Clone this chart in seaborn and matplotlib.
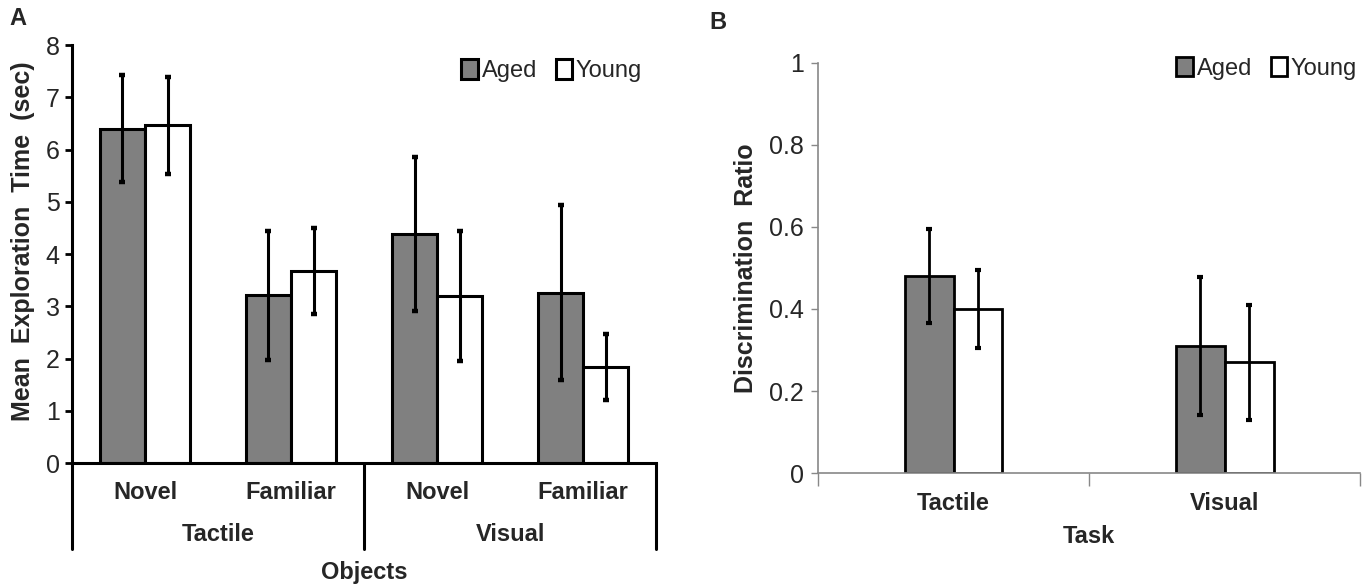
import numpy as np
import pandas as pd
import matplotlib
matplotlib.use('Agg')
import matplotlib.pyplot as plt
import seaborn as sns

groups = ['Aged', 'Young']
palette = {'Aged': '#808080', 'Young': '#ffffff'}

# panel A: exploration time per object
modality = ['Tactile', 'Tactile', 'Visual', 'Visual']
objects = ['Novel', 'Familiar', 'Novel', 'Familiar']
aged_time = [6.40, 3.21, 4.38, 3.26]
aged_time_err = [1.03, 1.24, 1.48, 1.67]
young_time = [6.46, 3.68, 3.20, 1.83]
young_time_err = [0.92, 0.82, 1.25, 0.63]

# panel B: discrimination ratio per task
tasks = ['Tactile', 'Visual']
aged_ratio = [0.48, 0.31]
aged_ratio_err = [0.115, 0.168]
young_ratio = [0.40, 0.27]
young_ratio_err = [0.094, 0.14]

sns.set_style('white')
plt.rcParams['font.family'] = ['Liberation Sans', 'DejaVu Sans']

conds = [m + ' ' + o for m, o in zip(modality, objects)]
dfa = pd.DataFrame({
    'cond': conds * 2,
    'group': ['Aged'] * 4 + ['Young'] * 4,
    'value': aged_time + young_time,
})
dfb = pd.DataFrame({
    'task': tasks * 2,
    'group': ['Aged'] * 2 + ['Young'] * 2,
    'value': aged_ratio + young_ratio,
})

fig = plt.figure(figsize=(13.7, 5.87), dpi=100)
axA = fig.add_axes([0.0526, 0.2112, 0.4264, 0.7121])
axB = fig.add_axes([0.597, 0.1942, 0.396, 0.6985])


def add_errors(ax, errs, lw, color):
    for cont, err in zip(ax.containers, errs):
        xs = [p.get_x() + p.get_width() / 2 for p in cont.patches]
        ys = [p.get_height() for p in cont.patches]
        ax.errorbar(xs, ys, yerr=err, fmt='none', ecolor=color, elinewidth=lw,
                    capsize=2.5, capthick=lw + 1, zorder=5)


lab_font = dict(fontsize=17, fontweight='bold')
leg_kw = dict(ncol=2, frameon=False, fontsize=17, handlelength=0.7, handleheight=0.9,
              handletextpad=0.15, columnspacing=0.8, borderaxespad=0.2)

# ---- panel A
sns.barplot(data=dfa, x='cond', y='value', hue='group', order=conds, hue_order=groups,
            palette=palette, width=0.62, edgecolor='black', linewidth=2.2,
            errorbar=None, legend=False, ax=axA)
add_errors(axA, [aged_time_err, young_time_err], 2.2, 'black')
axA.set_xlim(-0.5, 3.5)
axA.set_ylim(0, 8)
axA.set_yticks(range(0, 9))
axA.tick_params(axis='y', direction='out', length=5, width=2, color='black',
                labelsize=18, pad=4, left=True)
axA.set_xticks(range(4))
axA.set_xticklabels(objects, **lab_font)
axA.tick_params(axis='x', length=0, pad=13)
axA.set_xlabel('')
axA.set_ylabel('Mean  Exploration  Time  (sec)', fontsize=18, fontweight='bold')
axA.yaxis.set_label_coords(-0.064, 0.53)
for side in ['top', 'right']:
    axA.spines[side].set_visible(False)
for side in ['left', 'bottom']:
    axA.spines[side].set_linewidth(2.2)
    axA.spines[side].set_color('black')
trA = axA.get_xaxis_transform()
for xv in [-0.5, 1.5, 3.5]:
    axA.plot([xv, xv], [0, -0.205], transform=trA, color='black', lw=2.2, clip_on=False)
axA.text(0.5, -0.172, 'Tactile', transform=trA, ha='center', va='center', **lab_font)
axA.text(2.5, -0.172, 'Visual', transform=trA, ha='center', va='center', **lab_font)
axA.text(0.5, -0.262, 'Objects', transform=axA.transAxes, ha='center', va='center',
         **lab_font)
axA.legend(axA.containers, groups, loc='upper right', bbox_to_anchor=(1.0, 1.0), **leg_kw)
fig.text(0.007, 0.968, 'A', fontsize=17, fontweight='bold', va='center')

# ---- panel B
sns.barplot(data=dfb, x='task', y='value', hue='group', order=tasks, hue_order=groups,
            palette=palette, width=0.36, edgecolor='black', linewidth=2.0,
            errorbar=None, legend=False, ax=axB)
add_errors(axB, [aged_ratio_err, young_ratio_err], 2.0, 'black')
axB.set_xlim(-0.5, 1.5)
axB.set_ylim(0, 1)
axB.set_yticks([0, 0.2, 0.4, 0.6, 0.8, 1])
axB.set_yticklabels(['0', '0.2', '0.4', '0.6', '0.8', '1'])
axB.tick_params(axis='y', direction='out', length=5, width=1, color='#888888',
                labelsize=18, pad=5, left=True)
axB.set_xticks(range(2))
axB.set_xticklabels(tasks, **lab_font)
axB.set_xticks([-0.5, 0.5, 1.5], minor=True)
axB.tick_params(axis='x', which='major', length=0, pad=14)
axB.tick_params(axis='x', which='minor', direction='out', length=9, width=1,
                color='#888888', bottom=True)
axB.set_xlabel('Task', labelpad=7, **lab_font)
axB.set_ylabel('Discrimination  Ratio', fontsize=18, fontweight='bold', labelpad=8)
for side in ['top', 'right']:
    axB.spines[side].set_visible(False)
for side in ['left', 'bottom']:
    axB.spines[side].set_linewidth(1.2)
    axB.spines[side].set_color('#888888')
axB.legend(axB.containers, groups, loc='upper right', bbox_to_anchor=(1.02, 1.05), **leg_kw)
fig.text(0.518, 0.962, 'B', fontsize=17, fontweight='bold', va='center')

plt.savefig('out.png', dpi=100)
